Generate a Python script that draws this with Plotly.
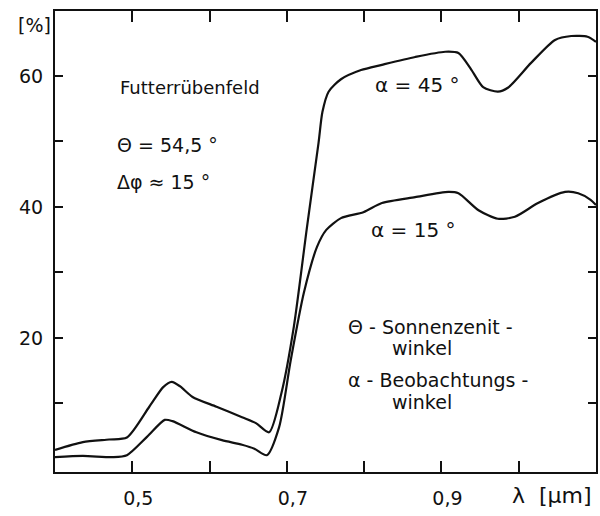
import plotly.graph_objects as go

# wavelength [um] and reflectance [%]
wl_45 = [0.400, 0.436, 0.470, 0.493, 0.522, 0.540, 0.551, 0.562, 0.578, 0.609,
         0.642, 0.660, 0.677, 0.693, 0.709, 0.726, 0.741, 0.746, 0.754, 0.770,
         0.796, 0.823, 0.866, 0.905, 0.922, 0.939, 0.954, 0.973, 0.986,
         1.016, 1.047, 1.068, 1.089, 1.100]
refl_45 = [2.9, 4.1, 4.5, 4.8, 9.5, 12.5, 13.3, 12.6, 11.0, 9.5,
           7.9, 7.0, 5.6, 11.6, 21.7, 36.9, 49.8, 54.5, 57.6, 59.5,
           60.9, 61.7, 62.9, 63.7, 63.5, 60.9, 58.3, 57.6, 58.2,
           62.0, 65.5, 66.1, 66.0, 65.2]

wl_15 = [0.400, 0.436, 0.475, 0.493, 0.519, 0.542, 0.552, 0.583, 0.616, 0.642,
         0.658, 0.674, 0.690, 0.705, 0.722, 0.739, 0.751, 0.770, 0.799, 0.823,
         0.866, 0.909, 0.922, 0.948, 0.973, 0.995, 1.025, 1.060, 1.077, 1.093, 1.100]
refl_15 = [1.8, 2.0, 1.8, 2.1, 4.9, 7.5, 7.3, 5.6, 4.4, 3.7,
           3.1, 2.1, 6.4, 16.6, 26.9, 33.9, 36.5, 38.3, 39.2, 40.6,
           41.5, 42.3, 42.1, 39.5, 38.2, 38.5, 40.6, 42.3, 42.1, 41.1, 40.3]

x_ticks = [0.5, 0.6, 0.7, 0.8, 0.9, 1.0]
x_ticktext = ["0,5", "", "0,7", "", "0,9", ""]
y_ticks = [10, 20, 30, 40, 50, 60]
y_ticktext = ["", "20", "", "40", "", "60"]

FONT = "DejaVu Sans"
INK = "#111111"

fig = go.Figure()
for xs, ys in [(wl_45, refl_45), (wl_15, refl_15)]:
    fig.add_trace(go.Scatter(x=xs, y=ys, mode="lines",
                             line=dict(color=INK, width=2.2, shape="spline", smoothing=0.7),
                             showlegend=False, hoverinfo="skip"))

notes = [
    ("Futterrübenfeld", 0.481, 58.3, 18),
    ("Θ = 54,5 °", 0.477, 49.5, 19),
    ("Δφ ≈ 15 °", 0.477, 43.8, 19),
    ("α = 45 °", 0.812, 58.6, 20),
    ("α = 15 °", 0.806, 36.5, 20),
    ("Θ -\u00a0Sonnenzenit\u00a0-", 0.776, 21.7, 19),
    ("winkel", 0.834, 18.5, 19),
    ("α -\u00a0Beobachtungs\u00a0-", 0.776, 13.6, 19),
    ("winkel", 0.834, 10.2, 19),
]
for txt, x, y, s in notes:
    fig.add_annotation(x=x, y=y, xref="x", yref="y", text=txt, showarrow=False,
                       xanchor="left", yanchor="middle",
                       font=dict(family=FONT, size=s, color=INK))

fig.add_annotation(x=0.996, y=-0.05, xref="paper", yref="paper", text="λ\u00a0\u00a0[μm]", showarrow=False,
                   xanchor="right", yanchor="middle",
                   font=dict(family=FONT, size=22, color=INK))
fig.add_annotation(x=-0.004, y=0.970, xref="paper", yref="paper", text="[%]", showarrow=False,
                   xanchor="right", yanchor="middle",
                   font=dict(family=FONT, size=19, color=INK))

axis_common = dict(showline=True, linecolor=INK, linewidth=2, mirror="allticks",
                   ticks="inside", tickcolor=INK, tickwidth=2,
                   showgrid=False, zeroline=False,
                   tickfont=dict(family=FONT, size=19, color=INK))

fig.update_xaxes(range=[0.4, 1.1], tickvals=x_ticks, ticktext=x_ticktext,
                 ticklen=11, ticklabelstandoff=8, ticklabelshift=6, **axis_common)
fig.update_yaxes(range=[-0.46, 69.92], tickvals=y_ticks, ticktext=y_ticktext,
                 ticklen=8, ticklabelstandoff=6, **axis_common)

fig.update_layout(width=600, height=516, margin=dict(l=55, r=2, t=11, b=44),
                  plot_bgcolor="white", paper_bgcolor="white")

fig.write_html("out.html")
